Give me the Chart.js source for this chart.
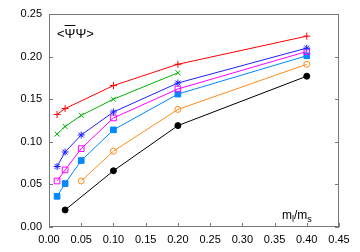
<!DOCTYPE html>
<html>
<head>
<meta charset="UTF-8">
<script src="https://cdn.jsdelivr.net/npm/chart.js@4"></script>
<style>
  html, body { margin: 0; padding: 0; background: #fff; }
  #wrap { width: 360px; height: 252px; }
</style>
</head>
<body>
<div id="wrap"><canvas id="myChart" width="360" height="252"></canvas></div>
<script>
// data (m_l/m_s vs condensate)
var xTicks = [0.00, 0.05, 0.10, 0.15, 0.20, 0.25, 0.30, 0.35, 0.40, 0.45];
var yTicks = [0.00, 0.05, 0.10, 0.15, 0.20, 0.25];

var redX = [0.0125, 0.025, 0.1, 0.2, 0.4];
var redY = [0.132, 0.139, 0.166, 0.191, 0.224];
var greenX = [0.0125, 0.025, 0.05, 0.1, 0.2];
var greenY = [0.109, 0.118, 0.131, 0.150, 0.181];
var blueX = [0.0125, 0.025, 0.05, 0.1, 0.2, 0.4];
var blueY = [0.071, 0.088, 0.108, 0.135, 0.169, 0.210];
var magentaX = [0.0125, 0.025, 0.05, 0.1, 0.2, 0.4];
var magentaY = [0.054, 0.067, 0.092, 0.128, 0.162, 0.206];
var skyX = [0.0125, 0.025, 0.05, 0.1, 0.2, 0.4];
var skyY = [0.036, 0.051, 0.078, 0.114, 0.156, 0.201];
var orangeX = [0.05, 0.1, 0.2, 0.4];
var orangeY = [0.054, 0.089, 0.138, 0.191];
var blackX = [0.025, 0.1, 0.2, 0.4];
var blackY = [0.020, 0.066, 0.119, 0.177];

function pts(xs, ys) {
  var out = [];
  for (var i = 0; i < xs.length; i++) out.push({x: xs[i], y: ys[i]});
  return out;
}

function series(xs, ys, color, style, filled, radius) {
  return {
    data: pts(xs, ys),
    borderColor: color,
    backgroundColor: filled ? color : 'rgba(0,0,0,0)',
    pointBorderColor: color,
    pointBackgroundColor: filled ? color : 'rgba(0,0,0,0)',
    pointStyle: style,
    pointRadius: radius,
    pointBorderWidth: 1,
    borderWidth: 1,
    tension: 0,
    fill: false
  };
}

// inside tick marks + in-plot labels, like the gnuplot original
var decor = {
  id: 'decor',
  afterDraw: function(chart) {
    var c = chart.ctx, a = chart.chartArea;
    var xs = chart.scales.x, ys = chart.scales.y;
    c.save();
    c.strokeStyle = '#777';
    c.lineWidth = 1;
    c.strokeRect(a.left + 0.5, a.top + 0.5, a.right - a.left - 1, a.bottom - a.top - 1);
    c.beginPath();
    xTicks.forEach(function(v) {
      var p = Math.round(xs.getPixelForValue(v)) + 0.5;
      c.moveTo(p, a.bottom); c.lineTo(p, a.bottom - 4);
    });
    yTicks.forEach(function(v) {
      var p = Math.round(ys.getPixelForValue(v)) + 0.5;
      c.moveTo(a.left, p); c.lineTo(a.left + 4, p);
      c.moveTo(a.right, p); c.lineTo(a.right - 4, p);
    });
    c.stroke();

    c.fillStyle = '#000';
    c.strokeStyle = '#000';
    c.textBaseline = 'alphabetic';
    c.font = '13px "Liberation Sans", Arial, sans-serif';
    var x0 = a.left + 8, yb = 38;
    c.fillText('<', x0, yb);
    var w1 = c.measureText('<').width;
    var wp = c.measureText('\u03a8').width;
    c.fillText('\u03a8', x0 + w1, yb);
    c.fillText('\u03a8', x0 + w1 + wp, yb);
    c.fillText('>', x0 + w1 + 2 * wp, yb);
    c.beginPath();
    c.moveTo(x0 + w1, yb - 12.5); c.lineTo(x0 + w1 + wp, yb - 12.5);
    c.stroke();

    c.font = '12px "Liberation Sans", Arial, sans-serif';
    var mx = 282, my = 219;
    c.fillText('m', mx, my); mx += c.measureText('m').width;
    c.font = '9px "Liberation Sans", Arial, sans-serif';
    c.fillText('l', mx, my + 3); mx += c.measureText('l').width;
    c.font = '12px "Liberation Sans", Arial, sans-serif';
    c.fillText('/m', mx, my); mx += c.measureText('/m').width;
    c.font = '9px "Liberation Sans", Arial, sans-serif';
    c.fillText('s', mx, my + 3);
    c.restore();
  }
};

var ctx = document.getElementById('myChart').getContext('2d');
var myChart = new Chart(ctx, {
  type: 'line',
  data: {
    datasets: [
      series(redX, redY, '#ff0000', 'cross', false, 3.5),
      series(greenX, greenY, '#00b000', 'crossRot', false, 3.5),
      series(blueX, blueY, '#2020ff', 'star', false, 3.5),
      series(magentaX, magentaY, '#ff00ff', 'rect', false, 4),
      series(skyX, skyY, '#0088ff', 'rect', true, 4),
      series(orangeX, orangeY, '#ff8c1a', 'circle', false, 3),
      series(blackX, blackY, '#000000', 'circle', true, 3)
    ]
  },
  options: {
    responsive: false,
    animation: false,
    layout: { padding: { top: 14, right: 21, left: 0, bottom: 0 } },
    plugins: { legend: { display: false }, tooltip: { enabled: false } },
    scales: {
      x: {
        type: 'linear',
        min: 0, max: 0.45,
        afterBuildTicks: function(s) { s.ticks = xTicks.map(function(v) { return {value: v}; }); },
        afterFit: function(s) { s.height = 25; },
        grid: { display: false, drawTicks: false },
        border: { display: false },
        ticks: {
          padding: 6,
          color: '#000',
          font: { family: '"Liberation Sans", Arial, sans-serif', size: 11 },
          callback: function(v) { return v.toFixed(2); }
        }
      },
      y: {
        type: 'linear',
        min: 0, max: 0.25,
        afterBuildTicks: function(s) { s.ticks = yTicks.map(function(v) { return {value: v}; }); },
        afterFit: function(s) { s.width = 49; },
        grid: { display: false, drawTicks: false },
        border: { display: false },
        ticks: {
          padding: 7,
          color: '#000',
          font: { family: '"Liberation Sans", Arial, sans-serif', size: 11 },
          callback: function(v) { return v.toFixed(2); }
        }
      }
    }
  },
  plugins: [decor]
});
</script>
</body>
</html>
